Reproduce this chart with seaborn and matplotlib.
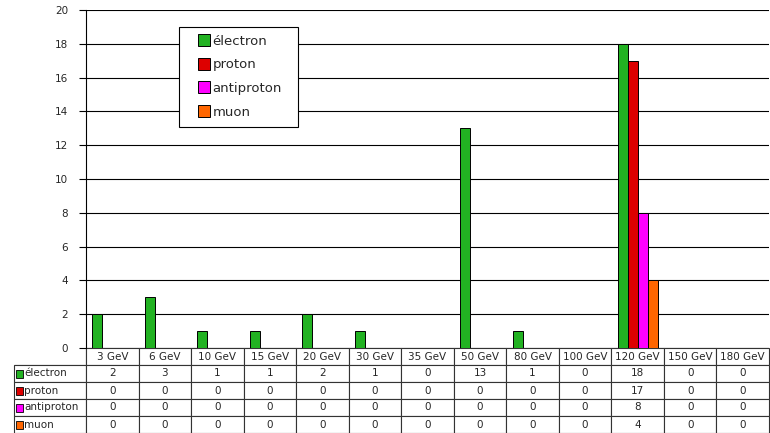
import matplotlib
matplotlib.use("Agg")
import matplotlib.pyplot as plt
import pandas as pd
import seaborn as sns
from matplotlib.lines import Line2D
from matplotlib.patches import Rectangle

# data
energies = ["3 GeV", "6 GeV", "10 GeV", "15 GeV", "20 GeV", "30 GeV", "35 GeV",
            "50 GeV", "80 GeV", "100 GeV", "120 GeV", "150 GeV", "180 GeV"]
particles = ["électron", "proton", "antiproton", "muon"]
electron = [2, 3, 1, 1, 2, 1, 0, 13, 1, 0, 18, 0, 0]
proton = [0, 0, 0, 0, 0, 0, 0, 0, 0, 0, 17, 0, 0]
antiproton = [0, 0, 0, 0, 0, 0, 0, 0, 0, 0, 8, 0, 0]
muon = [0, 0, 0, 0, 0, 0, 0, 0, 0, 0, 4, 0, 0]
colors = ["#22b222", "#dd0000", "#ff00ff", "#ff6600"]

series = [electron, proton, antiproton, muon]
df = pd.DataFrame({
    "energy": energies * len(particles),
    "particle": [p for p in particles for _ in energies],
    "count": [v for s in series for v in s],
})

sns.set_theme(style="white")
plt.rcParams["font.family"] = ["DejaVu Sans"]

fig = plt.figure(figsize=(7.7, 4.33), dpi=100)
W, H = 770, 433
ax = fig.add_axes([86 / W, (H - 348) / H, (769 - 86) / W, 338 / H])

sns.barplot(data=df, x="energy", y="count", hue="particle", order=energies,
            hue_order=particles, palette=colors, saturation=1, width=0.76,
            gap=0, edgecolor="black", linewidth=0.7, ax=ax, zorder=3)

ax.set_ylim(0, 20)
ax.set_yticks(range(0, 21, 2))
ax.yaxis.grid(True, color="black", linewidth=0.8)
ax.set_axisbelow(True)
ax.tick_params(axis="y", labelsize=7.5, length=5, width=0.8, color="black",
               direction="out", left=True, pad=8)
ax.tick_params(axis="x", length=0, labelbottom=False)
ax.set_xlabel("")
ax.set_ylabel("")
for side in ["top", "right", "bottom"]:
    ax.spines[side].set_visible(False)
ax.spines["left"].set_color("black")
ax.spines["left"].set_linewidth(0.8)

# legend
handles = [Line2D([], [], linestyle="none", marker="s", markersize=8,
                  markerfacecolor=c, markeredgecolor="black",
                  markeredgewidth=0.7) for c in colors]
leg = ax.legend(handles, particles, loc="upper left",
                bbox_to_anchor=(93 / 683, 311 / 338, 119 / 683, 10 / 338),
                mode="expand", fontsize=9.5, frameon=True, fancybox=False,
                framealpha=1, edgecolor="black", handlelength=2.6,
                handletextpad=-0.65, borderpad=0.6, labelspacing=0.8,
                borderaxespad=0)
leg.get_frame().set_linewidth(0.8)

# data table under the chart
label_w = 72 / 683
cell_rows = [[""] + [str(v) for v in s] for s in series]
table = ax.table(cellText=cell_rows, colLabels=[""] + energies,
                 colWidths=[label_w] + [1 / 13] * 13,
                 bbox=[-label_w, -85 / 338, 1 + label_w, 85 / 338],
                 cellLoc="center")
table.auto_set_font_size(False)
table.set_fontsize(7.5)
for (r, c), cell in table.get_celld().items():
    cell.set_edgecolor("#333333")
    cell.set_linewidth(0.8)
    if r == 0 and c == 0:
        cell.visible_edges = "BR"

fig.canvas.draw()
for i, (name, col) in enumerate(zip(particles, colors)):
    cell = table[i + 1, 0]
    x, y = cell.get_x(), cell.get_y()
    h = cell.get_height()
    px = 1 / 683
    py = 1 / 338
    ax.add_patch(Rectangle((x + 2 * px, y + h / 2 - 4 * py), 7 * px, 8 * py,
                           transform=ax.transAxes, facecolor=col,
                           edgecolor="black", linewidth=0.6, clip_on=False))
    ax.text(x + 10 * px, y + h / 2, name, transform=ax.transAxes,
            fontsize=7.5, va="center", ha="left", clip_on=False)

fig.savefig("out.png", dpi=100)
